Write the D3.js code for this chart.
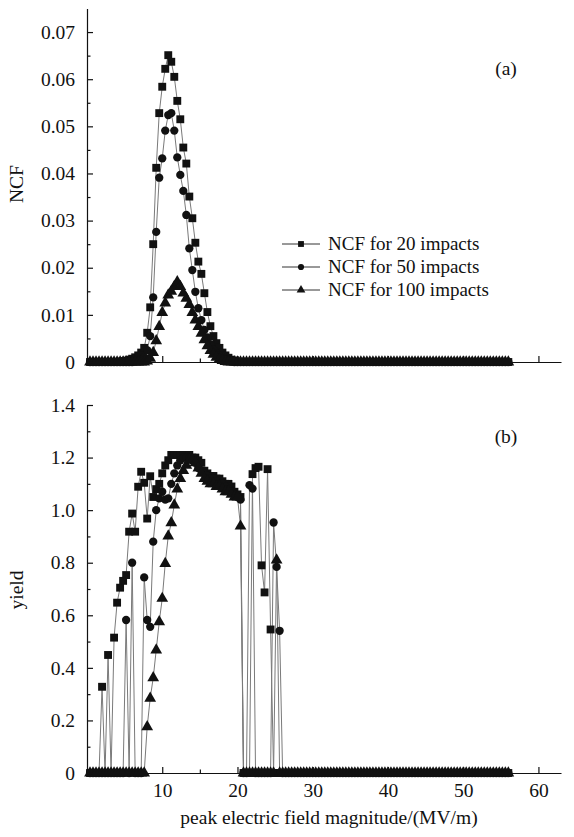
<!DOCTYPE html>
<html lang="en">
<head>
<meta charset="UTF-8">
<title>NCF and yield vs peak electric field</title>
<script src="https://cdn.jsdelivr.net/npm/d3@7"></script>
<style>
  body { margin: 0; background: #fff; }
  svg text { font-family: "Liberation Serif", "Times New Roman", serif; fill: #111; }
  .axis path, .axis line { stroke: #111; stroke-width: 1.2; }
  .axis text { font-size: 19.5px; }
</style>
</head>
<body>
<svg id="chart" width="574" height="837"></svg>
<script>
// peak electric field magnitude (MV/m), sampled every 0.4
const field = [
  0.4,0.8,1.2,1.6,2.0,2.4,2.8,3.2,3.6,4.0,
  4.4,4.8,5.2,5.6,6.0,6.4,6.8,7.2,7.6,8.0,
  8.4,8.8,9.2,9.6,10.0,10.4,10.8,11.2,11.6,12.0,
  12.4,12.8,13.2,13.6,14.0,14.4,14.8,15.2,15.6,16.0,
  16.4,16.8,17.2,17.6,18.0,18.4,18.8,19.2,19.6,20.0,
  20.4,20.8,21.2,21.6,22.0,22.4,22.8,23.2,23.6,24.0,
  24.4,24.8,25.2,25.6,26.0,26.4,26.8,27.2,27.6,28.0,
  28.4,28.8,29.2,29.6,30.0,30.4,30.8,31.2,31.6,32.0,
  32.4,32.8,33.2,33.6,34.0,34.4,34.8,35.2,35.6,36.0,
  36.4,36.8,37.2,37.6,38.0,38.4,38.8,39.2,39.6,40.0,
  40.4,40.8,41.2,41.6,42.0,42.4,42.8,43.2,43.6,44.0,
  44.4,44.8,45.2,45.6,46.0,46.4,46.8,47.2,47.6,48.0,
  48.4,48.8,49.2,49.6,50.0,50.4,50.8,51.2,51.6,52.0,
  52.4,52.8,53.2,53.6,54.0,54.4,54.8,55.2,55.6,56.0
];

// panel (a): NCF
const ncf20 = [
  0,0,0,0,0,0,0,0,0,0,
  0.0001,0.0002,0.0003,0.0005,0.0007,0.001,0.0014,0.002,0.003,0.0062,
  0.0116,0.025,0.0412,0.0528,0.0584,0.0622,0.0651,0.0637,0.0605,0.0554,
  0.0515,0.0455,0.0421,0.0351,0.0305,0.0253,0.0213,0.0187,0.0146,0.0106,
  0.0076,0.0055,0.004,0.003,0.002,0.0014,0.0009,0.0005,0.0003,0.0001,
  0,0,0,0,0,0,0,0,0,0,
  0,0,0,0,0,0,0,0,0,0,
  0,0,0,0,0,0,0,0,0,0,
  0,0,0,0,0,0,0,0,0,0,
  0,0,0,0,0,0,0,0,0,0,
  0,0,0,0,0,0,0,0,0,0,
  0,0,0,0,0,0,0,0,0,0,
  0,0,0,0,0,0,0,0,0,0,
  0,0,0,0,0,0,0,0,0,0
];
const ncf50 = [
  0,0,0,0,0,0,0,0,0,0,
  0,0,0,0,0,0.0001,0.0002,0.0005,0.001,0.0025,
  0.0055,0.0137,0.0276,0.0391,0.0432,0.0491,0.0524,0.0528,0.0491,0.0434,
  0.0397,0.0363,0.0312,0.0241,0.0195,0.0149,0.0114,0.0089,0.0068,0.0052,
  0.0038,0.0027,0.0019,0.0013,0.0008,0.0005,0.0003,0.0001,0,0,
  0,0,0,0,0,0,0,0,0,0,
  0,0,0,0,0,0,0,0,0,0,
  0,0,0,0,0,0,0,0,0,0,
  0,0,0,0,0,0,0,0,0,0,
  0,0,0,0,0,0,0,0,0,0,
  0,0,0,0,0,0,0,0,0,0,
  0,0,0,0,0,0,0,0,0,0,
  0,0,0,0,0,0,0,0,0,0,
  0,0,0,0,0,0,0,0,0,0
];
const ncf100 = [
  0,0,0,0,0,0,0,0,0,0,
  0,0,0,0,0,0,0,0,0,0.0002,
  0.0008,0.002,0.0045,0.0075,0.0105,0.0125,0.0142,0.015,0.016,0.017,
  0.016,0.0146,0.0135,0.0122,0.0105,0.0089,0.0075,0.0061,0.0047,0.0034,
  0.0024,0.0016,0.001,0.0006,0.0003,0.0001,0,0,0,0,
  0,0,0,0,0,0,0,0,0,0,
  0,0,0,0,0,0,0,0,0,0,
  0,0,0,0,0,0,0,0,0,0,
  0,0,0,0,0,0,0,0,0,0,
  0,0,0,0,0,0,0,0,0,0,
  0,0,0,0,0,0,0,0,0,0,
  0,0,0,0,0,0,0,0,0,0,
  0,0,0,0,0,0,0,0,0,0,
  0,0,0,0,0,0,0,0,0,0
];

// panel (b): yield
const yield20 = [
  0,0,0,0,0.328,0,0.449,0,0.515,0.648,
  0.705,0.731,0.753,0.918,0.987,0.918,1.089,1.146,1.104,0.968,
  1.129,1.05,1.08,1.10,1.14,1.17,1.19,1.21,1.21,1.21,
  1.21,1.21,1.20,1.21,1.20,1.20,1.19,1.18,1.15,1.14,
  1.13,1.13,1.12,1.12,1.11,1.10,1.10,1.09,1.07,1.06,
  1.05,0,0,0,1.137,1.16,1.165,0.79,0.687,1.156,
  0.546,0,0,0,0,0,0,0,0,0,
  0,0,0,0,0,0,0,0,0,0,
  0,0,0,0,0,0,0,0,0,0,
  0,0,0,0,0,0,0,0,0,0,
  0,0,0,0,0,0,0,0,0,0,
  0,0,0,0,0,0,0,0,0,0,
  0,0,0,0,0,0,0,0,0,0,
  0,0,0,0,0,0,0,0,0,0
];
const yield50 = [
  0,0,0,0,0,0,0,0,0,0,
  0,0,0.582,0,0.80,0,0,0,0.744,0.582,
  0.556,0.88,1.0,1.045,1.07,1.04,1.045,1.10,1.14,1.17,
  1.19,1.20,1.20,1.20,1.19,1.18,1.16,1.15,1.14,1.13,
  1.12,1.12,1.11,1.10,1.10,1.09,1.08,1.07,1.06,1.05,
  1.04,0,0,1.095,1.082,0,0,0,0,0,
  0,0.953,0.784,0.541,0,0,0,0,0,0,
  0,0,0,0,0,0,0,0,0,0,
  0,0,0,0,0,0,0,0,0,0,
  0,0,0,0,0,0,0,0,0,0,
  0,0,0,0,0,0,0,0,0,0,
  0,0,0,0,0,0,0,0,0,0,
  0,0,0,0,0,0,0,0,0,0,
  0,0,0,0,0,0,0,0,0,0
];
const yield100 = [
  0,0,0,0,0,0,0,0,0,0,
  0,0,0,0,0,0,0,0,0,0.176,
  0.284,0.362,0.468,0.575,0.664,0.797,0.901,0.952,1.019,1.08,
  1.12,1.15,1.17,1.19,1.19,1.18,1.16,1.14,1.12,1.11,
  1.10,1.10,1.09,1.09,1.08,1.07,1.07,1.06,1.05,1.05,
  0.939,0,0,0,0,0,0,0,0,0,
  0,0,0.81,0,0,0,0,0,0,0,
  0,0,0,0,0,0,0,0,0,0,
  0,0,0,0,0,0,0,0,0,0,
  0,0,0,0,0,0,0,0,0,0,
  0,0,0,0,0,0,0,0,0,0,
  0,0,0,0,0,0,0,0,0,0,
  0,0,0,0,0,0,0,0,0,0,
  0,0,0,0,0,0,0,0,0,0
];

const seriesNames = ["NCF for 20 impacts", "NCF for 50 impacts", "NCF for 100 impacts"];
const xTicks = [10, 20, 30, 40, 50, 60];
const xMinorTicks = [5, 15, 25, 35, 45, 55];
const ncfTicks = [0, 0.01, 0.02, 0.03, 0.04, 0.05, 0.06, 0.07];
const ncfMinorTicks = [0.005, 0.015, 0.025, 0.035, 0.045, 0.055, 0.065];
const yieldTicks = [0, 0.2, 0.4, 0.6, 0.8, 1.0, 1.2, 1.4];
const yieldMinorTicks = [0.1, 0.3, 0.5, 0.7, 0.9, 1.1, 1.3];

const svg = d3.select("#chart");
const x = d3.scaleLinear().domain([0, 63]).range([87, 561]);
const yTop = d3.scaleLinear().domain([0, 0.075]).range([362, 8.5]);
const yBot = d3.scaleLinear().domain([0, 1.4]).range([773, 405]);

const shapes = [d3.symbolSquare, d3.symbolCircle, d3.symbolTriangle];
const sizes = [62, 54, 60];

function drawPanel(y, series, ticks, minor, fmt, label, labelY, tag, tagY, xLabels) {
    const x0 = x.range()[0], y0 = y.range()[0];

    // series lines, then markers on top
    series.forEach(vals => {
        const line = d3.line().x((d, i) => x(field[i])).y(d => y(d));
        svg.append("path")
            .attr("d", line(vals))
            .attr("fill", "none")
            .attr("stroke", "#7a7a7a")
            .attr("stroke-width", 1);
    });
    series.forEach((vals, k) => {
        const sym = d3.symbol().type(shapes[k]).size(sizes[k]);
        svg.append("g").selectAll("path")
            .data(vals)
            .join("path")
            .attr("d", sym)
            .attr("transform", (d, i) => `translate(${x(field[i])},${y(d)})`)
            .attr("fill", "#111");
    });

    // axes with inward ticks
    svg.append("g").attr("class", "axis")
        .attr("transform", `translate(${x0},0)`)
        .call(d3.axisLeft(y).tickValues(ticks).tickFormat(fmt)
            .tickSize(-6).tickSizeOuter(0).tickPadding(12));
    svg.append("g").attr("class", "axis")
        .attr("transform", `translate(${x0},0)`)
        .call(d3.axisLeft(y).tickValues(minor).tickFormat("")
            .tickSize(-3.5).tickSizeOuter(0))
        .select(".domain").remove();

    const xa = svg.append("g").attr("class", "axis")
        .attr("transform", `translate(0,${y0})`)
        .call(d3.axisBottom(x).tickValues(xTicks)
            .tickSize(-6).tickSizeOuter(0).tickPadding(10));
    if (!xLabels) xa.selectAll("text").remove();
    svg.append("g").attr("class", "axis")
        .attr("transform", `translate(0,${y0})`)
        .call(d3.axisBottom(x).tickValues(xMinorTicks).tickFormat("")
            .tickSize(-3.5).tickSizeOuter(0))
        .select(".domain").remove();

    svg.append("text")
        .attr("transform", `translate(23,${labelY}) rotate(-90)`)
        .attr("text-anchor", "middle")
        .style("font-size", "19.5px")
        .text(label);

    svg.append("text")
        .attr("x", 506).attr("y", tagY)
        .attr("text-anchor", "middle")
        .style("font-size", "19.5px")
        .text(tag);
}

drawPanel(yTop, [ncf20, ncf50, ncf100], ncfTicks, ncfMinorTicks,
    d => d === 0 ? "0" : d3.format(".2f")(d), "NCF", 184, "(a)", 75, false);
drawPanel(yBot, [yield20, yield50, yield100], yieldTicks, yieldMinorTicks,
    d => d === 0 ? "0" : d3.format(".1f")(d), "yield", 590, "(b)", 443, true);

svg.append("text")
    .attr("x", 329).attr("y", 824)
    .attr("text-anchor", "middle")
    .style("font-size", "19.5px")
    .text("peak electric field magnitude/(MV/m)");

// legend for panel (a)
const legend = svg.append("g").attr("transform", "translate(282,244)");
seriesNames.forEach((name, k) => {
    const row = legend.append("g").attr("transform", `translate(0,${k * 23})`);
    row.append("line")
        .attr("x1", 0).attr("x2", 38)
        .attr("stroke", "#333").attr("stroke-width", 1);
    row.append("path")
        .attr("d", d3.symbol().type(shapes[k]).size(sizes[k] * 0.55))
        .attr("transform", "translate(19,0)")
        .attr("fill", "#111");
    row.append("text")
        .attr("x", 46).attr("y", 6)
        .style("font-size", "19px")
        .text(name);
});
</script>
</body>
</html>
